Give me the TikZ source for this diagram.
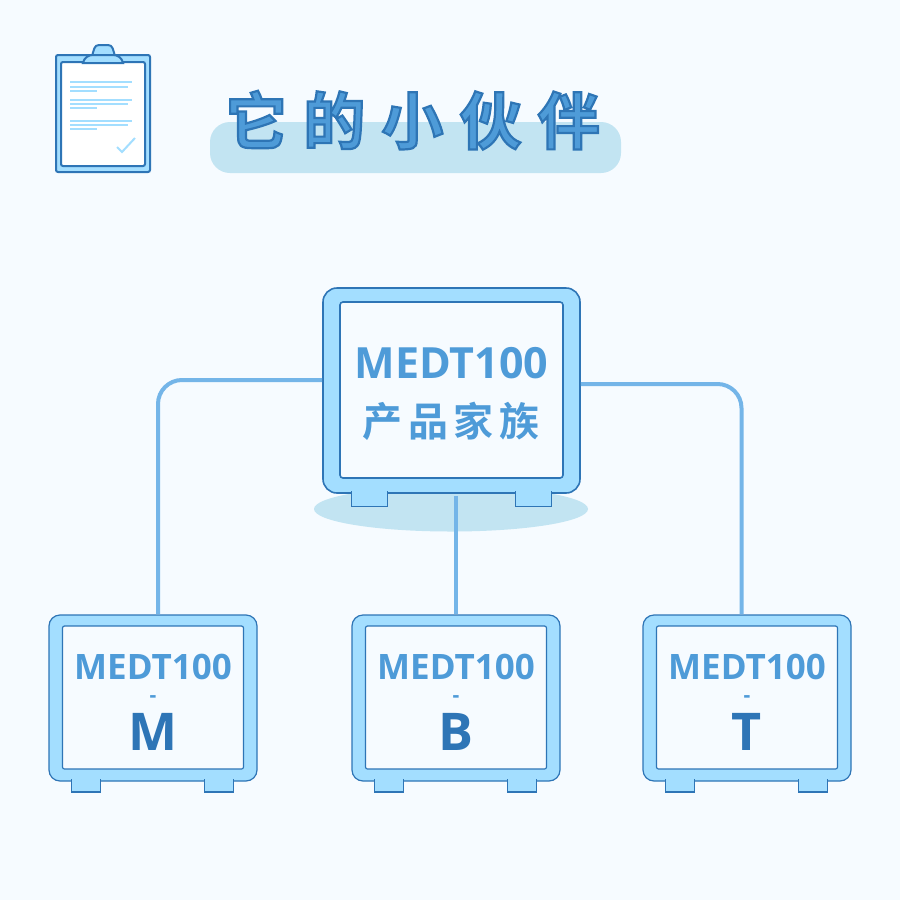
\documentclass[tikz,border=0pt]{standalone}
\usepackage{fontspec}
\setmainfont{Noto Sans CJK SC}[BoldFont={Noto Sans CJK SC Bold}]
\newfontfamily\latinfont{Open Sans}
\usepackage{tikz}
\usetikzlibrary{calc}
\definecolor{pagebg}{HTML}{F6FBFF}
\definecolor{bodyblue}{HTML}{A3DEFF}
\definecolor{edgeblue}{HTML}{2E75B6}
\definecolor{linkblue}{HTML}{74B5E8}
\definecolor{textblue}{HTML}{4E9BD8}
\definecolor{shadeblue}{HTML}{C2E4F2}
\newcommand{\outlined}[1]{\special{pdf:code 2 Tr 2.2 w 0.18 0.46 0.71 RG}#1\special{pdf:code 0 Tr}}

\begin{document}
\begin{tikzpicture}[
    x=1pt, y=-1pt,
    bigbody/.style={
      draw=edgeblue, fill=bodyblue, line width=1.6pt, rounded corners=14pt,
      minimum width=257pt, minimum height=205pt},
    bigscreen/.style={
      draw=edgeblue, fill=pagebg, line width=1.6pt, rounded corners=3pt,
      minimum width=223pt, minimum height=176pt},
    smallbody/.style={
      draw=edgeblue, fill=bodyblue, line width=1.2pt, rounded corners=11pt,
      minimum width=208pt, minimum height=166pt},
    smallscreen/.style={
      draw=edgeblue, fill=pagebg, line width=1.2pt, rounded corners=2pt,
      minimum width=181pt, minimum height=143pt},
    foot/.style={fill=bodyblue, draw=edgeblue, line width=1.3pt},
    link/.style={draw=linkblue, line width=4pt},
    sheetline/.style={draw=bodyblue, line width=2pt},
    clipedge/.style={fill=bodyblue, draw=edgeblue, line width=2pt},
    modelname/.style={anchor=base, text=textblue, font=\latinfont\bfseries\fontsize{35}{35}\selectfont, inner sep=0pt},
    modeldash/.style={anchor=base, text=textblue, font=\latinfont\bfseries\fontsize{21}{21}\selectfont, inner sep=0pt},
    modelletter/.style={anchor=base, text=edgeblue, font=\latinfont\bfseries\fontsize{52}{52}\selectfont, inner sep=0pt}]

    \useasboundingbox (0,0) rectangle (900,900);
    \fill [pagebg] (0,0) rectangle (900,900);

    % clipboard
    \draw [clipedge, rounded corners=2pt] (56,55) rectangle (150,172);
    \draw [fill=white, draw=edgeblue, line width=2pt, rounded corners=2pt] (61,62) rectangle (145,166);
    \draw [clipedge] (92,56) .. controls (94,50) and (94,45) .. (99,45) -- (108,45) .. controls (113,45) and (113,50) .. (115,56) -- cycle;
    \draw [clipedge] (83,63) .. controls (84,58) and (88,55) .. (93,55) -- (113,55) .. controls (118,55) and (122,58) .. (123,63) -- cycle;
    \draw [sheetline] (70,82) -- (132,82);
    \draw [sheetline] (70,86.5) -- (128,86.5);
    \draw [sheetline] (70,90.5) -- (97,90.5);
    \draw [sheetline] (70,99.5) -- (132,99.5);
    \draw [sheetline] (70,104) -- (128,104);
    \draw [sheetline] (70,107.5) -- (97,107.5);
    \draw [sheetline] (70,121) -- (132,121);
    \draw [sheetline] (70,125) -- (128,125);
    \draw [sheetline] (70,129) -- (97,129);
    \draw [draw=bodyblue, line width=2pt] (117,147) -- (122,152) -- (135,138);

    % title
    \fill [shadeblue, rounded corners=20pt] (210,122) rectangle (621,173);
    \node [anchor=base, inner sep=0pt, text=textblue] (title) at (412.5,144)
      {\bfseries\fontsize{62}{62}\selectfont\addfontfeature{LetterSpace=26}\outlined{它的小伙伴}};

    % family
    \fill [shadeblue] (451,509) ellipse (137 and 22.5);
    \node [bigbody] (famBody) at (451.5,390.5) {};
    \node [bigscreen] (famScreen) at (451.5,390) {};
    \draw [foot] ([xshift=29,yshift=2.5]famBody.south west) -- ++(0,15) -- ++(36,0) -- ++(0,-15);
    \draw [foot] ([xshift=-29,yshift=2.5]famBody.south east) -- ++(0,15) -- ++(-36,0) -- ++(0,-15);
    \node [modelname, font=\latinfont\bfseries\fontsize{43}{43}\selectfont] (famName) at (451.5,378) {MEDT100};
    \node [modelname, font=\bfseries\fontsize{40}{40}\selectfont\addfontfeature{LetterSpace=14}] (famLabel) at (451,436) {产品家族};

    % M
    \node [smallbody] (mBody) at (153,698) {};
    \node [smallscreen] (mScreen) at (153,697.5) {};
    \draw [foot] ([xshift=23,yshift=2.5]mBody.south west) -- ++(0,13) -- ++(29,0) -- ++(0,-13);
    \draw [foot] ([xshift=-24,yshift=2.5]mBody.south east) -- ++(0,13) -- ++(-29,0) -- ++(0,-13);
    \node [modelname] (mName) at (153,679) {MEDT100};
    \node [modeldash] (mDash) at (153,702) {-};
    \node [modelletter] (mLetter) at (153,750) {M};

    % B
    \node [smallbody] (bBody) at (456,698) {};
    \node [smallscreen] (bScreen) at (456,697.5) {};
    \draw [foot] ([xshift=23,yshift=2.5]bBody.south west) -- ++(0,13) -- ++(29,0) -- ++(0,-13);
    \draw [foot] ([xshift=-24,yshift=2.5]bBody.south east) -- ++(0,13) -- ++(-29,0) -- ++(0,-13);
    \node [modelname] (bName) at (456,679) {MEDT100};
    \node [modeldash] (bDash) at (456,702) {-};
    \node [modelletter] (bLetter) at (456,750) {B};

    % T
    \node [smallbody] (tBody) at (747,698) {};
    \node [smallscreen] (tScreen) at (747,697.5) {};
    \draw [foot] ([xshift=23,yshift=2.5]tBody.south west) -- ++(0,13) -- ++(29,0) -- ++(0,-13);
    \draw [foot] ([xshift=-24,yshift=2.5]tBody.south east) -- ++(0,13) -- ++(-29,0) -- ++(0,-13);
    \node [modelname] (tName) at (747,679) {MEDT100};
    \node [modeldash] (tDash) at (747,702) {-};
    \node [modelletter] (tLetter) at (747,750) {T};

    % links
    \draw [link, rounded corners=24pt] (famBody.west |- 0,380) -- (158,380) -- ([xshift=5]mBody.north);
    \draw [link, rounded corners=24pt] (famBody.east |- 0,384) -- (741.5,384) -- ([xshift=-5.5]tBody.north);
    \draw [link] ($(famBody.south)+(4,2)$) -- (bBody.north -| 455.5,0);
\end{tikzpicture}
\end{document}
